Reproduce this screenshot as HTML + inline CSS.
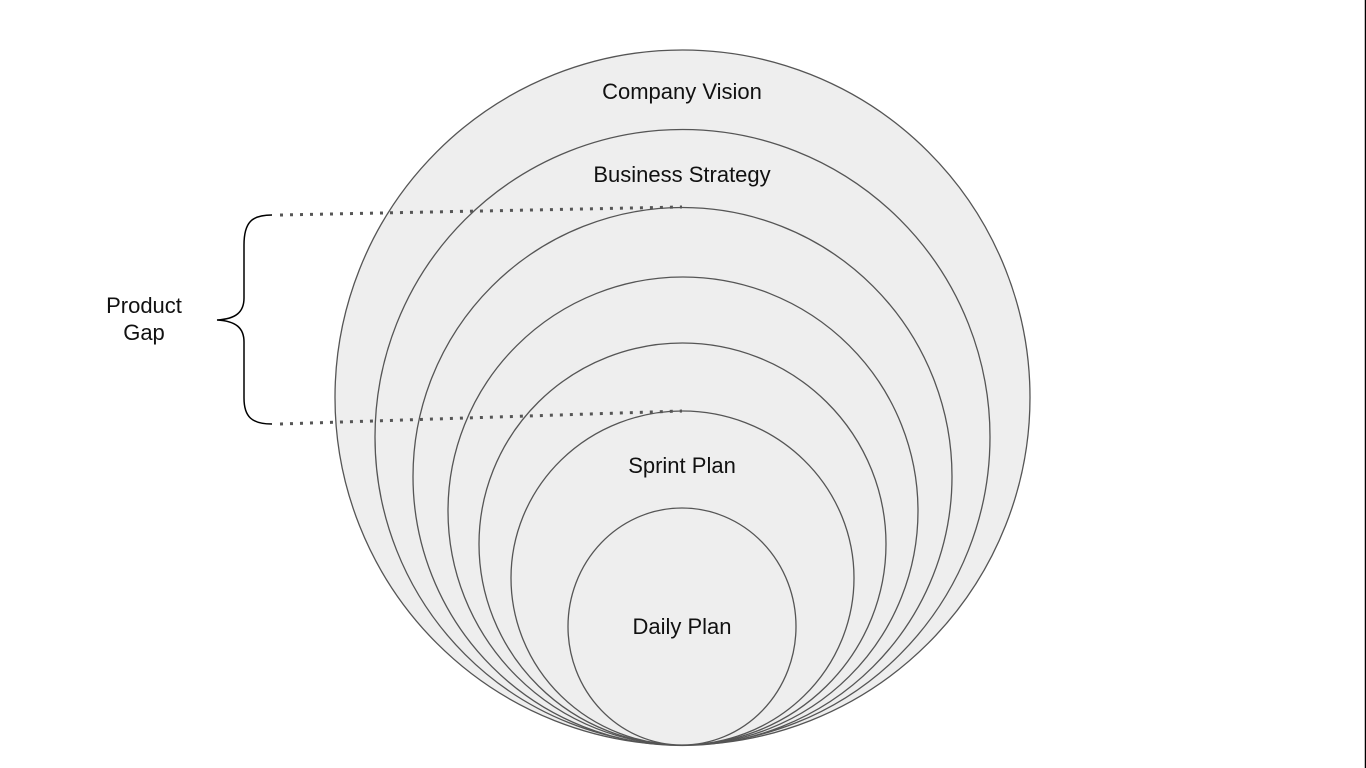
<!DOCTYPE html>
<html><head><style>body{margin:0;background:#fff}svg{display:block}</style></head>
<body>
<svg width="1366" height="768" xmlns="http://www.w3.org/2000/svg">
<g fill="#eeeeee" stroke="#555" stroke-width="1.3">
<circle cx="682.5" cy="397.5" r="347.5"/>
<circle cx="682.5" cy="437" r="307.5"/>
<ellipse cx="682.5" cy="476.5" rx="269.5" ry="269"/>
<ellipse cx="683" cy="511" rx="235" ry="234"/>
<ellipse cx="682.5" cy="544" rx="203.5" ry="201"/>
<ellipse cx="682.5" cy="578" rx="171.5" ry="167"/>
<ellipse cx="682" cy="626.5" rx="114" ry="118.5"/>
</g>
<g stroke="#555" stroke-width="3" stroke-dasharray="3,7" fill="none">
<line x1="280" y1="215" x2="682" y2="207"/>
<line x1="280" y1="424" x2="682" y2="411"/>
</g>
<path d="M272 215 C252 215 244 222 244 245 L244 298 C244 312 236 319 217 320 C236 321 244 328 244 342 L244 398 C244 417 252 424 272 424" fill="none" stroke="#000" stroke-width="1.5"/>
<line x1="1365.5" y1="0" x2="1365.5" y2="768" stroke="#000" stroke-width="1.5"/>
<g font-family="Liberation Sans, sans-serif" font-size="22" fill="#111" text-anchor="middle">
<text x="682" y="99">Company Vision</text>
<text x="682" y="182">Business Strategy</text>
<text x="682" y="473">Sprint Plan</text>
<text x="682" y="634">Daily Plan</text>
<text x="144" y="313">Product</text>
<text x="144" y="340">Gap</text>
</g>
</svg>
</body></html>
